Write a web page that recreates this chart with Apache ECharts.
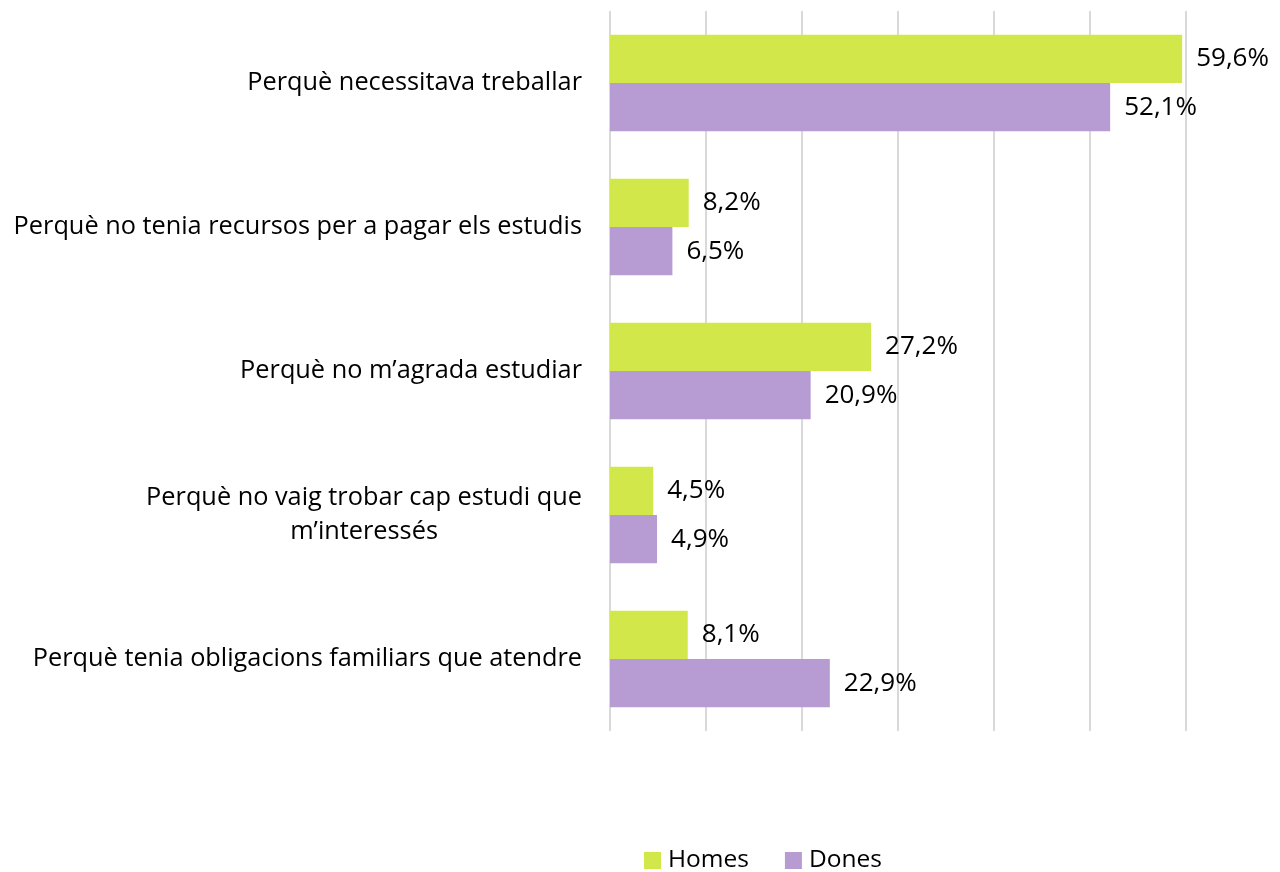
<!DOCTYPE html>
<html>
<head>
<meta charset="utf-8">
<script src="https://cdn.jsdelivr.net/npm/echarts@6/dist/echarts.min.js"></script>
<style>
  html, body { margin: 0; padding: 0; background: #fff; }
  #chart { width: 1280px; height: 872px; }
</style>
</head>
<body>
<div id="chart"></div>
<script>
const categories = [
  'Perquè necessitava treballar',
  'Perquè no tenia recursos per a pagar els estudis',
  'Perquè no m\u2019agrada estudiar',
  'Perquè no vaig trobar cap estudi que\nm\u2019interessés',
  'Perquè tenia obligacions familiars que atendre'
];
const homes = [59.6, 8.2, 27.2, 4.5, 8.1];
const dones = [52.1, 6.5, 20.9, 4.9, 22.9];
const xTicks = [0, 10, 20, 30, 40, 50, 60];

const colors = ['#d2e74a', '#b79cd4'];
const font = 'Open Sans';

const chart = echarts.init(document.getElementById('chart'));

// data labels use comma decimal
const pct = p => p.value.toFixed(1).replace('.', ',') + '%';

chart.setOption({
  backgroundColor: '#fff',
  textStyle: { fontFamily: font, color: '#000' },
  grid: { left: 610, right: 94, top: 11, bottom: 141 },
  legend: {
    bottom: -6,
    left: 639,
    itemWidth: 17,
    itemHeight: 17,
    itemGap: 36,
    icon: 'rect',
    textStyle: { fontFamily: font, fontSize: 24.5, color: '#000', padding: [0, 0, 0, 2] },
    data: ['Homes', 'Dones']
  },
  xAxis: {
    type: 'value',
    min: xTicks[0],
    max: xTicks[xTicks.length - 1],
    interval: 10,
    axisLabel: { show: false },
    axisLine: { show: false },
    axisTick: { show: false },
    splitLine: { lineStyle: { color: '#d9d9d9', width: 2 } }
  },
  yAxis: {
    type: 'category',
    inverse: true,
    data: categories,
    axisLine: { show: false },
    axisTick: { show: false },
    axisLabel: {
      margin: 28,
      formatter: v => v.split('\n').map(s => '{c|' + s + '}').join('\n'),
      rich: {
        c: { fontFamily: font, fontSize: 25.3, color: '#000', align: 'center', lineHeight: 34 }
      }
    }
  },
  series: [
    {
      name: 'Homes',
      type: 'bar',
      data: homes,
      barGap: '0%',
      barCategoryGap: '33%',
      itemStyle: { color: colors[0] },
      label: { show: true, position: 'right', distance: 14, formatter: pct, fontFamily: font, fontSize: 26, color: '#000' }
    },
    {
      name: 'Dones',
      type: 'bar',
      data: dones,
      barGap: '0%',
      barCategoryGap: '33%',
      itemStyle: { color: colors[1] },
      label: { show: true, position: 'right', distance: 14, formatter: pct, fontFamily: font, fontSize: 26, color: '#000' }
    }
  ]
});
</script>
</body>
</html>
